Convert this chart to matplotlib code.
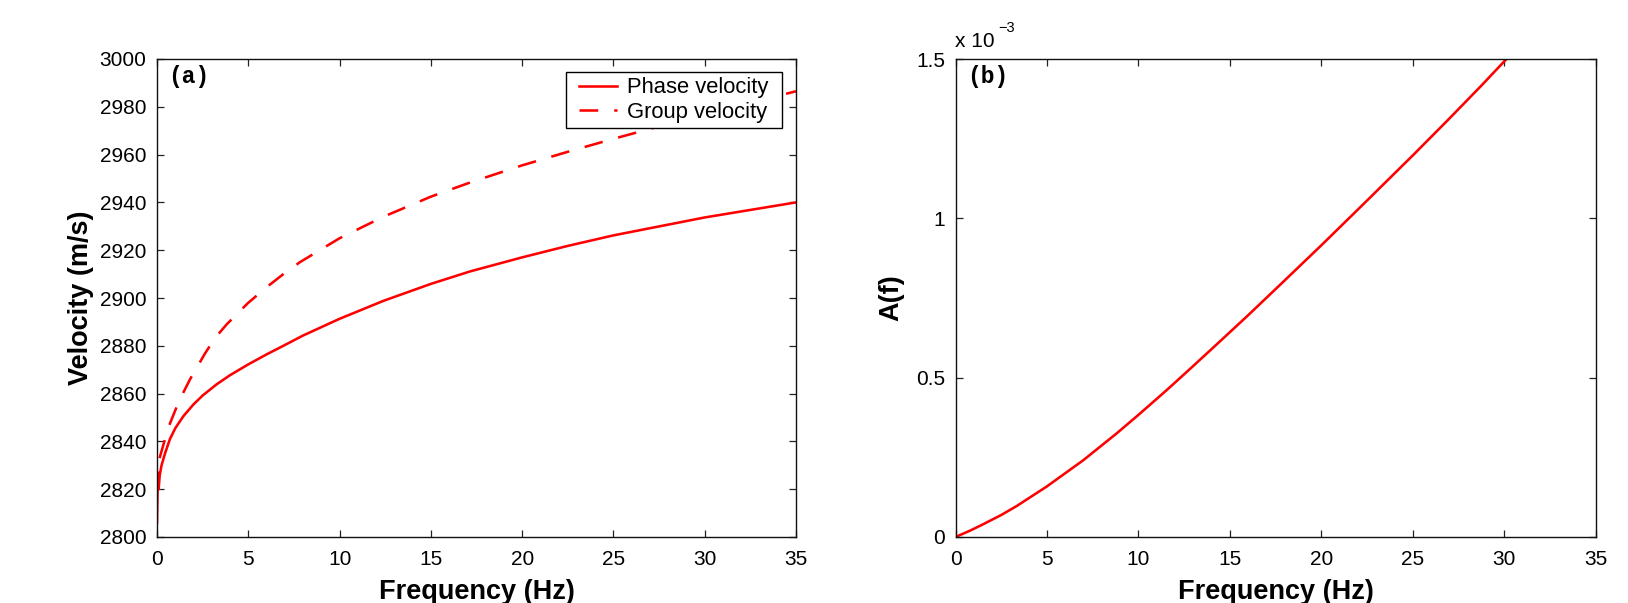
import matplotlib
matplotlib.use("Agg")
import matplotlib.pyplot as plt
from matplotlib.ticker import FuncFormatter
from matplotlib.patches import Rectangle

# ---- data ----
freq_phase = [0.0, 0.05, 0.09, 0.15, 0.25, 0.44, 0.71, 1.0, 1.44, 2.0, 2.5, 3.27,
              4.0, 4.97, 6.0, 6.92, 8.0, 10.0, 12.4, 15.0, 17.14, 20.0, 22.5, 25.0, 30.0, 35.0]
phase_vel = [2806, 2827, 2820, 2826, 2830, 2835, 2841, 2845.5, 2850.5, 2855.5, 2859.2, 2863.9,
             2867.7, 2872.1, 2876.4, 2880.0, 2884.3, 2891.3, 2898.8, 2905.9, 2911.1, 2917.0,
             2921.8, 2926.2, 2933.7, 2940.0]

freq_group = [0.14, 0.44, 0.71, 1.0, 1.26, 1.81, 2.63, 3.2, 3.82, 4.97, 6.0, 6.92, 7.83,
              10.0, 12.4, 15.0, 17.14, 20.0, 22.6, 25.0, 27.5, 30.0, 32.5, 35.0]
group_vel = [2833, 2841, 2847.5, 2853, 2857.7, 2866, 2876.8, 2883.5, 2889, 2897.8, 2904.5,
             2910, 2915, 2925, 2934, 2942.4, 2948.3, 2955.5, 2961.4, 2966.6, 2971.8, 2976.8,
             2981.7, 2986.5]

freq_A = [0.0, 0.8, 1.51, 2.5, 3.34, 4.98, 6.99, 8.81, 10.0, 11.55, 12.74, 14.03, 15.95, 17.78,
          20.0, 22.35, 25.0, 26.92, 28.75, 30.1]
A_vals = [0.0, 0.020e-3, 0.040e-3, 0.069e-3, 0.097e-3, 0.158e-3, 0.241e-3, 0.325e-3, 0.383e-3,
          0.461e-3, 0.523e-3, 0.591e-3, 0.693e-3, 0.793e-3, 0.915e-3, 1.047e-3, 1.197e-3,
          1.308e-3, 1.416e-3, 1.498e-3]

xticks = [0, 5, 10, 15, 20, 25, 30, 35]
yticks_a = [2800, 2820, 2840, 2860, 2880, 2900, 2920, 2940, 2960, 2980, 3000]
yticks_b = [0, 0.5e-3, 1.0e-3, 1.5e-3]

plt.rcParams['font.family'] = ['Liberation Sans', 'DejaVu Sans']
plt.rcParams['lines.scale_dashes'] = False

fig = plt.figure(figsize=(16.28, 6.03), dpi=100)
H = 603.0
W = 1628.0
ax1 = fig.add_axes([157 / W, 1 - 537 / H, 639 / W, 478 / H])
ax2 = fig.add_axes([955.5 / W, 1 - 537 / H, 640 / W, 478 / H])

red = '#ff0000'
ax1.plot(freq_phase, phase_vel, color=red, lw=1.85, label='Phase velocity')
ax1.plot(freq_group, group_vel, color=red, lw=1.85, linestyle=(0, (13.5, 11.5)),
         label='Group velocity')
ax2.plot(freq_A, A_vals, color=red, lw=1.85)

for ax in (ax1, ax2):
    ax.set_xlim(0, 35)
    ax.set_xticks(xticks)
    ax.tick_params(direction='in', length=4.7, width=0.9, top=True, right=True,
                   labelsize=15, colors='#222222', labelcolor='black')
    ax.tick_params(axis='x', pad=9.5)
    ax.tick_params(axis='y', pad=7.5)
    for s in ax.spines.values():
        s.set_linewidth(1.0)
        s.set_color('#111111')
    ax.set_xlabel('Frequency (Hz)', fontsize=19.5, fontweight='bold')
    ax.xaxis.set_label_coords(0.5, -0.088)
    ax.xaxis.label.set_va('top')

ax1.set_ylim(2800, 3000)
ax1.set_yticks(yticks_a)
ax1.set_ylabel('Velocity (m/s)', fontsize=19.5, fontweight='bold')
ax1.yaxis.set_label_coords(-0.098, 0.5)

ax2.set_ylim(0, 1.5e-3)
ax2.set_yticks(yticks_b)
ax2.yaxis.set_major_formatter(FuncFormatter(lambda v, p: '%g' % round(v * 1e3, 6)))
ax2.set_ylabel('A(f)', fontsize=19.5, fontweight='bold')
ax2.yaxis.set_label_coords(-0.080, 0.5)

ax1.text(0.018, 0.988, '(a)', transform=ax1.transAxes, fontsize=16.5, fontweight='bold',
         family='Liberation Mono', va='top', ha='left')
ax2.text(0.018, 0.988, '(b)', transform=ax2.transAxes, fontsize=16.5, fontweight='bold',
         family='Liberation Mono', va='top', ha='left')

# legend: frame drawn as a box of the reference's size, entries centred in it
box_l, box_r, box_t, box_b = 566, 782, 72, 128
ax1.add_patch(Rectangle(((box_l - 157) / 639, (537 - box_b) / 478),
                        (box_r - box_l) / 639, (box_b - box_t) / 478,
                        transform=ax1.transAxes, facecolor='white', edgecolor='black',
                        linewidth=1.0, zorder=4.5, clip_on=False))
leg = ax1.legend(loc='center',
                 bbox_to_anchor=(((box_l + box_r) / 2 - 157) / 639,
                                 (537 - (box_t + box_b) / 2) / 478),
                 borderaxespad=0, borderpad=0, fontsize=15.8, frameon=False,
                 handlelength=1.73, handletextpad=0.47, labelspacing=0.15)
leg.set_zorder(5)

fig.text(955 / W, 1 - 47 / H, 'x 10', fontsize=15, va='baseline', ha='left')
fig.text(998 / W, 1 - 32 / H, '\u22123', fontsize=10.5, va='baseline', ha='left')

fig.savefig('out.png', dpi=100)
